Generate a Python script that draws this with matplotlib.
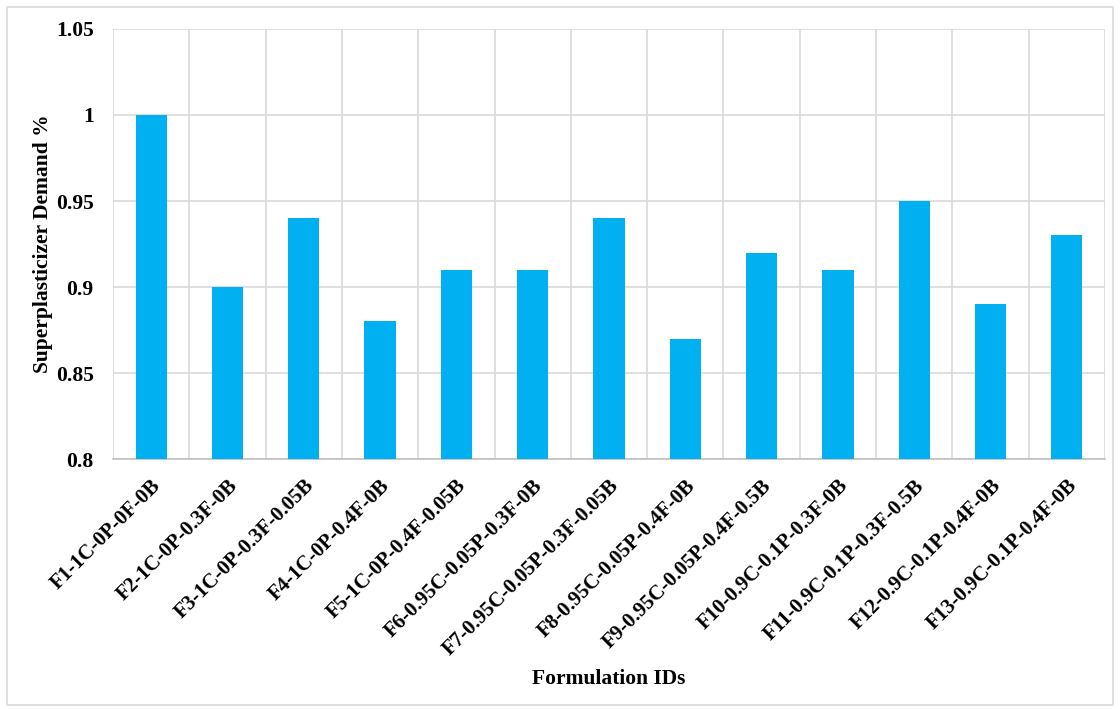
import matplotlib.pyplot as plt
from matplotlib.patches import Rectangle
from matplotlib.ticker import FixedLocator, NullFormatter

formulations = [
    'F1-1C-0P-0F-0B', 'F2-1C-0P-0.3F-0B', 'F3-1C-0P-0.3F-0.05B',
    'F4-1C-0P-0.4F-0B', 'F5-1C-0P-0.4F-0.05B', 'F6-0.95C-0.05P-0.3F-0B',
    'F7-0.95C-0.05P-0.3F-0.05B', 'F8-0.95C-0.05P-0.4F-0B', 'F9-0.95C-0.05P-0.4F-0.5B',
    'F10-0.9C-0.1P-0.3F-0B', 'F11-0.9C-0.1P-0.3F-0.5B', 'F12-0.9C-0.1P-0.4F-0B',
    'F13-0.9C-0.1P-0.4F-0B',
]
sp_demand = [1.00, 0.90, 0.94, 0.88, 0.91, 0.91, 0.94, 0.87, 0.92, 0.91, 0.95, 0.89, 0.93]
y_ticks = [0.8, 0.85, 0.9, 0.95, 1.0, 1.05]
y_tick_labels = ['0.8', '0.85', '0.9', '0.95', '1', '1.05']

plt.rcParams['font.family'] = ['Liberation Serif', 'DejaVu Serif']
plt.rcParams['font.weight'] = 'bold'

fig = plt.figure(figsize=(11.2, 7.09), dpi=100)
ax = fig.add_axes([0.1009, 0.3526, 0.8857, 0.6065])

x = list(range(len(formulations)))
ax.bar(x, sp_demand, width=0.41, color='#00B0F0', zorder=3)

ax.set_xlim(-0.5, len(formulations) - 0.5)
ax.set_ylim(0.8, 1.05)
ax.set_yticks(y_ticks)
ax.set_yticklabels(y_tick_labels, fontsize=15.5, fontweight='bold')
ax.set_xticks(x)
ax.set_xticklabels(formulations, rotation=45, ha='right', rotation_mode='anchor',
                   fontsize=15, fontweight='bold')
ax.tick_params(axis='y', length=0, pad=14)
ax.tick_params(axis='x', length=0, pad=12)

# category boundaries as vertical gridlines
ax.xaxis.set_minor_locator(FixedLocator([i + 0.5 for i in range(-1, len(formulations))]))
ax.xaxis.set_minor_formatter(NullFormatter())
ax.tick_params(axis='x', which='minor', length=0)
ax.grid(axis='x', which='minor', color='#D9D9D9', linewidth=1.2, zorder=0)
ax.grid(axis='y', which='major', color='#D9D9D9', linewidth=1.2, zorder=0)

for side in ['top', 'right', 'left']:
    ax.spines[side].set_visible(False)
ax.spines['bottom'].set_color('#BFBFBF')
ax.spines['bottom'].set_linewidth(1.2)

fig.text(0.0384, 0.6558, 'Superplasticizer Demand %', rotation=90, ha='center', va='center',
         fontsize=15.5, fontweight='bold')
fig.text(0.5437, 0.043, 'Formulation IDs', ha='center', va='center',
         fontsize=15.5, fontweight='bold')

fig.patches.append(Rectangle((0.0063, 0.006), 0.9875, 0.984, transform=fig.transFigure,
                             fill=False, edgecolor='#D9D9D9', linewidth=1.2))

fig.savefig('out.png', dpi=100)
